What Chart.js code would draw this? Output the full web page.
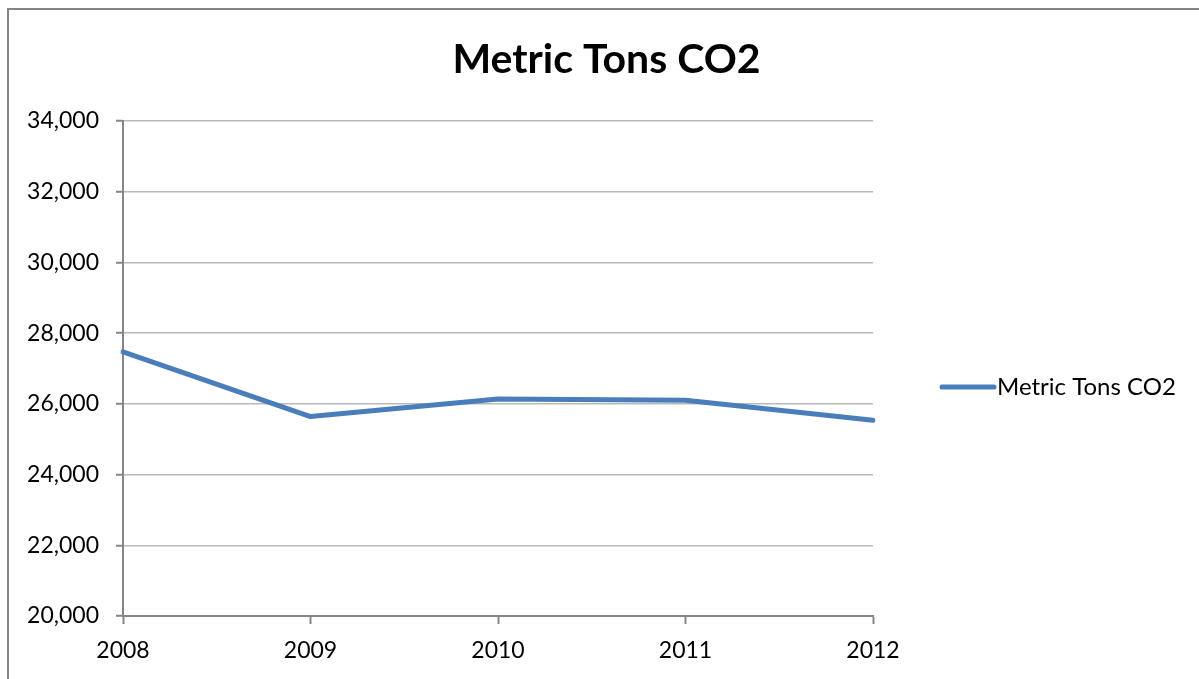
<!DOCTYPE html>
<html>
<head>
<meta charset="utf-8">
<script src="https://cdn.jsdelivr.net/npm/chart.js@4.4.1/dist/chart.umd.min.js"></script>
<style>
  html, body { margin: 0; padding: 0; background: #ffffff; }
  #wrap { width: 1199px; height: 679px; position: relative; }
</style>
</head>
<body>
<div id="wrap"><canvas id="chart" width="1199" height="679"></canvas></div>
<script>
// Annual emissions
const years = ['2008', '2009', '2010', '2011', '2012'];
const co2Values = [27470, 25640, 26140, 26100, 25535];
const seriesName = 'Metric Tons CO2';
const chartTitle = 'Metric Tons CO2';
const yMin = 20000;
const yMax = 34000;
const yStep = 2000;

const FONT = 'Lato, "Open Sans", sans-serif';
const LINE_COLOR = '#4a7ebb';
const AXIS_COLOR = '#868686';
const GRID_COLOR = '#b9b9b9';

// Frame, title and legend drawn around the plot
const decorations = {
  id: 'decorations',
  beforeDraw(chart) {
    const ctx = chart.ctx;
    ctx.save();
    ctx.fillStyle = '#ffffff';
    ctx.fillRect(0, 0, chart.width, chart.height);
    ctx.strokeStyle = AXIS_COLOR;
    ctx.lineWidth = 2;
    ctx.beginPath();
    ctx.moveTo(8, chart.height);
    ctx.lineTo(8, 9);
    ctx.lineTo(chart.width, 9);
    ctx.stroke();
    ctx.restore();
  },
  afterDraw(chart) {
    const ctx = chart.ctx;
    ctx.save();
    // title
    ctx.fillStyle = '#000000';
    ctx.font = 'bold 41px ' + FONT;
    ctx.textAlign = 'center';
    ctx.textBaseline = 'alphabetic';
    ctx.fillText(chartTitle, 606.5, 73);
    // legend
    const ds = chart.data.datasets[0];
    const ly = 387;
    ctx.strokeStyle = ds.borderColor;
    ctx.lineWidth = 5;
    ctx.lineCap = 'round';
    ctx.beginPath();
    ctx.moveTo(942, ly);
    ctx.lineTo(994, ly);
    ctx.stroke();
    ctx.font = '24px ' + FONT;
    ctx.textAlign = 'left';
    ctx.fillText(ds.label, 997, 394.5);
    ctx.restore();
  }
};

new Chart(document.getElementById('chart'), {
  type: 'line',
  data: {
    labels: years,
    datasets: [{
      label: seriesName,
      data: co2Values,
      borderColor: LINE_COLOR,
      backgroundColor: LINE_COLOR,
      borderWidth: 5,
      borderCapStyle: 'round',
      borderJoinStyle: 'round',
      pointRadius: 0,
      pointHoverRadius: 0,
      tension: 0,
      fill: false
    }]
  },
  options: {
    responsive: false,
    animation: false,
    devicePixelRatio: 1,
    layout: { padding: { top: 121, right: 326, bottom: 0, left: 0 } },
    plugins: {
      legend: { display: false },
      title: { display: false },
      tooltip: { enabled: false }
    },
    scales: {
      x: {
        type: 'category',
        offset: false,
        afterFit(scale) { scale.height = 63; },
        grid: {
          drawOnChartArea: false,
          drawTicks: true,
          tickLength: 8,
          tickColor: AXIS_COLOR,
          tickWidth: 2
        },
        border: { display: true, color: AXIS_COLOR, width: 2 },
        ticks: {
          color: '#000000',
          font: { family: FONT, size: 23 },
          padding: 13,
          maxRotation: 0,
          autoSkip: false
        }
      },
      y: {
        min: yMin,
        max: yMax,
        afterFit(scale) { scale.width = 123; },
        grid: {
          color: GRID_COLOR,
          lineWidth: 1.5,
          drawTicks: true,
          tickLength: 7,
          tickColor: AXIS_COLOR,
          tickWidth: 2
        },
        border: { display: true, color: AXIS_COLOR, width: 2 },
        ticks: {
          stepSize: yStep,
          color: '#000000',
          font: { family: FONT, size: 23 },
          padding: 17,
          callback: (v) => v.toLocaleString('en-US')
        }
      }
    }
  },
  plugins: [decorations]
});
</script>
</body>
</html>
